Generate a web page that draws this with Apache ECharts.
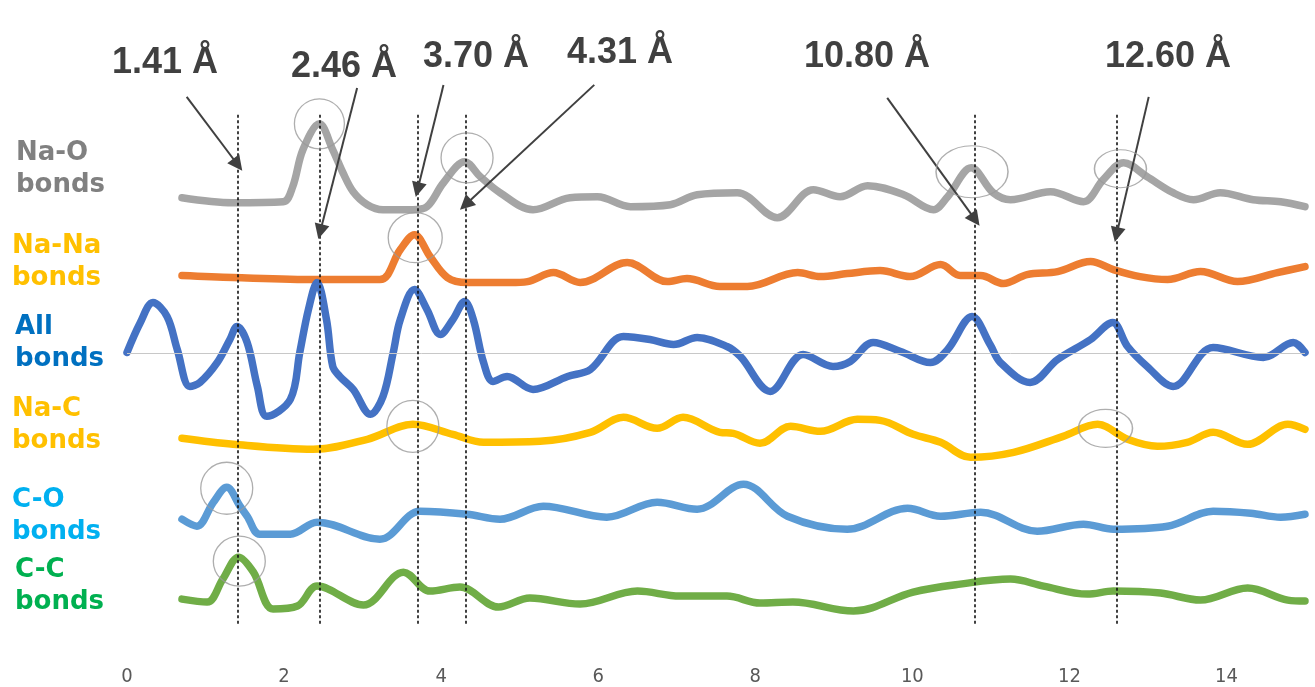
<!DOCTYPE html>
<html>
<head>
<meta charset="utf-8">
<script src="https://cdn.jsdelivr.net/npm/echarts@6/dist/echarts.min.js"></script>
<style>
  html, body { margin: 0; padding: 0; background: #ffffff; }
  #chart { width: 1315px; height: 687px; }
</style>
</head>
<body>
<div id="chart"></div>
<script>
// Partial radial distribution curves: distance r (Å) and deviation of g(r) from each curve's own baseline.
const naO_r = [0.70,1.35,1.99,2.11,2.24,2.45,2.62,2.75,2.88,3.06,3.26,3.64,3.82,4.03,4.30,4.50,4.75,5.17,5.64,5.99,6.41,6.92,7.26,7.77,8.28,8.74,9.08,9.43,9.89,10.27,10.45,10.75,11.03,11.25,11.76,12.18,12.43,12.69,12.99,13.32,13.58,13.92,14.34,14.69,15.00];
const naO_g = [0.00,-0.25,-0.20,0.55,2.40,3.70,2.40,1.25,0.30,-0.35,-0.60,-0.60,-0.45,0.75,1.80,1.05,0.25,-0.60,0.00,0.05,-0.45,-0.35,0.15,0.25,-1.00,0.40,0.05,0.60,0.15,-0.60,0.05,1.50,0.25,-0.10,0.30,-0.20,0.90,1.75,1.05,0.25,-0.10,0.25,-0.10,-0.20,-0.45];

const naNa_r = [0.70,1.35,2.42,3.22,3.48,3.66,3.86,4.08,4.33,4.88,5.10,5.43,5.77,6.37,6.88,7.13,7.55,7.90,8.54,8.83,9.17,9.59,9.97,10.36,10.61,10.87,11.16,11.46,11.85,12.27,12.56,12.90,13.25,13.67,14.14,14.65,15.00];
const naNa_g = [0.05,-0.05,-0.15,-0.15,1.35,2.10,1.00,-0.05,-0.30,-0.30,-0.25,0.20,-0.30,0.70,-0.25,-0.10,-0.50,-0.50,0.20,0.00,0.15,0.30,0.00,0.60,0.05,0.05,-0.35,0.10,0.25,0.75,0.35,0.00,-0.15,0.25,-0.25,0.20,0.50];

const all_r = [0.00,0.17,0.33,0.51,0.64,0.80,0.93,1.15,1.31,1.40,1.53,1.66,1.78,2.08,2.20,2.31,2.42,2.54,2.62,2.71,2.88,3.10,3.26,3.39,3.48,3.66,3.82,3.99,4.15,4.30,4.41,4.54,4.66,4.84,5.17,5.61,5.90,6.32,6.66,6.96,7.26,7.64,7.81,8.19,8.61,8.99,9.21,9.50,9.85,10.23,10.45,10.76,10.99,11.12,11.50,11.85,12.27,12.55,12.74,12.99,13.32,13.83,14.47,14.85,15.00];
const all_g = [0.05,1.55,2.55,1.85,0.20,-1.65,-1.45,-0.45,0.70,1.35,0.55,-1.65,-3.15,-2.30,0.05,2.20,3.55,1.70,-0.65,-1.15,-1.80,-3.05,-2.15,0.05,1.70,3.20,2.20,0.95,1.70,2.60,1.70,-0.45,-1.40,-1.15,-1.80,-1.15,-0.80,0.85,0.70,0.45,0.80,0.35,-0.15,-1.90,-0.05,-0.65,-0.40,0.55,0.10,-0.45,0.20,1.85,0.45,-0.45,-1.45,-0.30,0.70,1.55,0.35,-0.65,-1.65,0.30,-0.20,0.55,0.05];

const naC_r = [0.70,1.35,2.37,3.06,3.64,4.15,4.54,5.26,5.90,6.32,6.75,7.08,7.55,7.72,8.06,8.45,8.83,9.30,9.59,10.01,10.36,10.74,11.29,11.92,12.36,12.74,13.12,13.50,13.83,14.27,14.78,15.00];
const naC_g = [0.05,-0.25,-0.50,0.00,0.75,0.25,-0.15,-0.10,0.35,1.10,0.55,1.10,0.35,0.30,-0.20,0.65,0.40,1.00,0.95,0.25,-0.15,-0.90,-0.65,0.15,0.75,0.00,-0.35,-0.15,0.35,-0.25,0.75,0.50];

const cO_r = [0.70,0.89,1.10,1.27,1.44,1.53,1.69,2.08,2.42,3.22,3.73,4.33,4.75,5.30,6.11,6.75,7.26,7.85,8.41,9.17,9.94,10.36,10.87,11.59,12.18,12.56,13.25,13.83,14.31,14.69,15.00];
const cO_g = [0.20,-0.15,1.05,1.80,0.85,0.35,-0.55,-0.55,0.05,-0.80,0.60,0.45,0.20,0.85,0.30,1.05,0.70,1.95,0.35,-0.30,0.75,0.35,0.55,-0.40,-0.05,-0.30,-0.15,0.60,0.50,0.30,0.45];

const cC_r = [0.70,1.02,1.22,1.42,1.61,1.86,2.17,2.42,3.01,3.52,3.86,4.24,4.73,5.13,5.77,6.50,7.04,7.64,8.06,8.48,9.25,10.01,10.61,11.25,11.67,12.23,12.56,13.16,13.67,14.27,14.78,15.00];
const cC_g = [0.00,-0.15,1.00,2.10,1.35,-0.50,-0.35,0.65,-0.30,1.35,0.40,0.60,-0.40,0.05,-0.25,0.40,0.15,0.15,-0.20,-0.15,-0.60,0.35,0.75,1.00,0.65,0.25,0.40,0.30,-0.05,0.55,-0.05,-0.10];

// Curve names, vertical baselines of the stacked curves, marked peak distances and axis ticks.
const curveNames = ['Na-O bonds', 'Na-Na bonds', 'All bonds', 'Na-C bonds', 'C-O bonds', 'C-C bonds'];
const baselines = [7.8, 3.85, 0, -4.3, -8.5, -12.3];
const peakDistances = [1.41, 2.46, 3.70, 4.31, 10.80, 12.60];
const xTicks = [0, 2, 4, 6, 8, 10, 12, 14];

// ---- drawing ----
const curveR = [naO_r, naNa_r, all_r, naC_r, cO_r, cC_r];
const curveG = [naO_g, naNa_g, all_g, naC_g, cO_g, cC_g];
const lineColors = ['#A5A5A5', '#ED7D31', '#4472C4', '#FFC000', '#5B9BD5', '#70AD47'];
const nameColors = ['#808080', '#FFC000', '#0070C0', '#FFC000', '#00B0F0', '#00B050'];
const nameCenters = [169, 262, 343, 425, 516, 586];
const nameLeft = [16, 12, 15, 12, 12, 15];

// Rings around highlighted peaks: [r, y, width, height]
const rings = [
  [2.45, 11.5, 50, 50], [4.33, 9.8, 52, 50], [3.67, 5.8, 54, 50],
  [10.76, 9.1, 72, 52], [12.65, 9.25, 52, 38], [3.64, -3.65, 52, 52],
  [12.46, -3.75, 54, 38], [1.27, -6.75, 52, 52], [1.43, -10.4, 52, 50]
];
// Arrow tails and tip heights for each marked distance
const arrowTails = [[0.76, 12.85], [2.93, 13.3], [4.03, 13.45], [5.95, 13.45], [9.68, 12.8], [13.01, 12.85]];
const arrowTipY = [9.45, 6.1, 8.2, 7.45, 6.7, 5.95];
// Distance captions (pixel centers)
const captionPos = [[165, 63], [344, 67], [476, 57], [620, 53], [867, 57], [1168, 57]];

const series = curveNames.map((name, i) => ({
  name: name,
  type: 'line',
  data: curveR[i].map((r, k) => [r, curveG[i][k] + baselines[i]]),
  showSymbol: false,
  smooth: 0.35,
  z: 3,
  lineStyle: { color: lineColors[i], width: 7.5, cap: 'round', join: 'round' },
  itemStyle: { color: lineColors[i] },
  silent: true
}));

// zero line of the full curve
series[2].markLine = {
  silent: true, symbol: 'none', animation: false,
  lineStyle: { color: '#C8C8C8', width: 1, type: 'solid' },
  label: { show: false },
  data: [{ yAxis: 0 }]
};

// dotted guide lines at the marked distances
series.push({
  type: 'scatter',
  data: peakDistances.map(d => [d, 0]),
  symbolSize: 0,
  silent: true,
  z: 4,
  markLine: {
    silent: true, symbol: 'none', animation: false,
    label: { show: false },
    lineStyle: { color: '#111111', width: 1.6, type: [3, 2.5] },
    data: peakDistances.map(d => [{ coord: [d, 11.95] }, { coord: [d, -13.55] }])
  }
});

// rings
series.push({
  type: 'scatter',
  data: rings.map(c => ({ value: [c[0], c[1]], symbolSize: [c[2], c[3]] })),
  symbol: 'circle',
  silent: true,
  z: 5,
  itemStyle: { color: 'rgba(0,0,0,0)', borderColor: '#9a9a9a', borderWidth: 1.3 }
});

// arrows from captions to guide lines
series.push({
  type: 'scatter',
  data: peakDistances.map((d, i) => [d, arrowTipY[i]]),
  symbolSize: 1,
  itemStyle: { opacity: 0 },
  silent: true,
  z: 6,
  markLine: {
    silent: true, animation: false,
    symbol: ['none', 'triangle'], symbolSize: 15,
    label: { show: false },
    itemStyle: { color: '#404040' },
    lineStyle: { color: '#404040', width: 2, type: 'solid' },
    data: peakDistances.map((d, i) => [
      { coord: arrowTails[i], symbol: 'none' },
      { coord: [d, arrowTipY[i]], symbol: 'triangle', symbolSize: 15 }
    ])
  }
});

const graphics = [];
curveNames.forEach((name, i) => {
  const parts = name.split(' ');
  graphics.push({
    type: 'text', left: nameLeft[i], top: nameCenters[i] - 32,
    silent: true,
    style: { text: parts[0] + '\n' + parts[1], font: 'bold 26px "DejaVu Sans", Verdana, sans-serif', fill: nameColors[i], lineHeight: 32 }
  });
});
peakDistances.forEach((d, i) => {
  graphics.push({
    type: 'text', x: captionPos[i][0], y: captionPos[i][1],
    silent: true,
    style: { text: d.toFixed(2) + ' Å', font: 'bold 36px "Liberation Sans", Arial, sans-serif', fill: '#404040', align: 'center', verticalAlign: 'middle' }
  });
});

const chart = echarts.init(document.getElementById('chart'), null, { renderer: 'canvas' });
chart.setOption({
  animation: false,
  backgroundColor: '#ffffff',
  grid: { left: 127, right: 10, top: 14, bottom: 33, containLabel: false },
  xAxis: {
    type: 'value', min: 0, max: 15, interval: 2,
    axisLine: { show: false }, axisTick: { show: false }, splitLine: { show: false },
    axisLabel: {
      color: '#595959', fontSize: 20, fontFamily: '"DejaVu Sans Condensed", "Liberation Sans", sans-serif',
      margin: 14, showMaxLabel: false,
      formatter: v => (xTicks.indexOf(v) >= 0 ? String(v) : '')
    }
  },
  yAxis: { type: 'value', min: -15, max: 17, show: false },
  series: series,
  graphic: graphics
});
</script>
</body>
</html>
